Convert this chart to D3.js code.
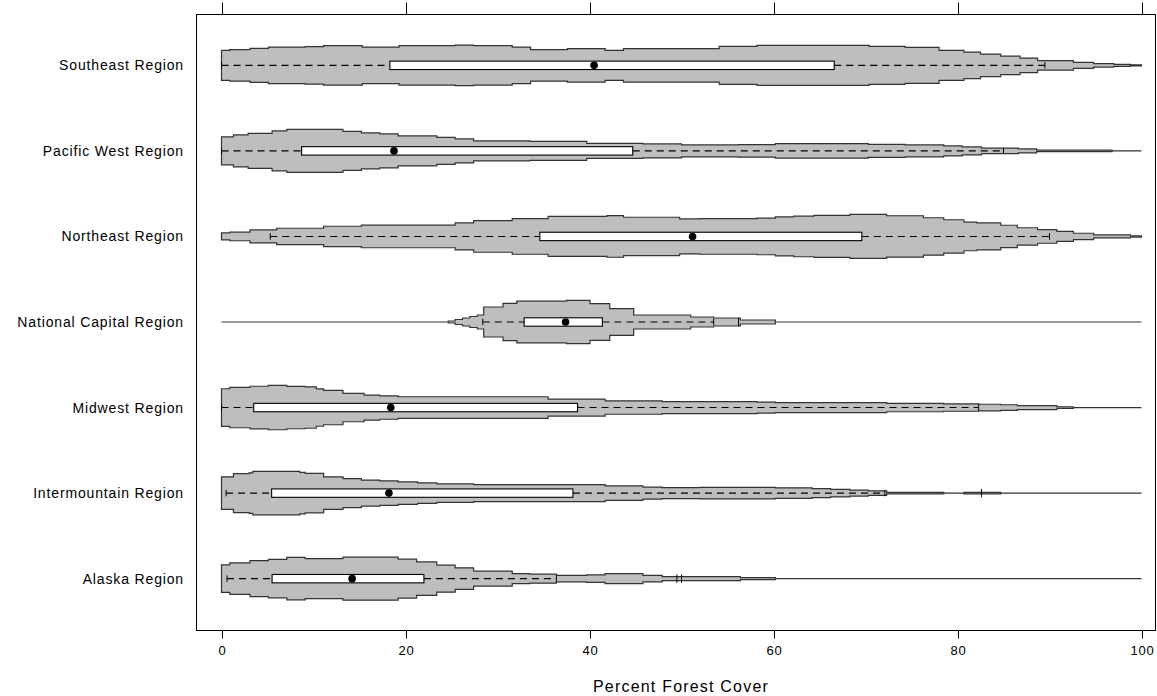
<!DOCTYPE html>
<html><head><meta charset="utf-8">
<script src="https://cdn.jsdelivr.net/npm/d3@7"></script>
<style>body{margin:0;background:#fff}svg{display:block}</style>
</head><body>
<script>
// ---- data ----
const regions = ["Southeast Region","Pacific West Region","Northeast Region","National Capital Region","Midwest Region","Intermountain Region","Alaska Region"];
const xTicks = [0,20,40,60,80,100];
const xLabel = "Percent Forest Cover";

// density profiles: [percent, density] (step starts)
const densSoutheast = [[0,15],[0.9,15.8],[3.1,17],[5.1,18.3],[9.1,18.8],[11.1,19.8],[15.3,18.3],[19.3,19.8],[25.4,20.3],[27.4,19.8],[31.6,18.3],[33.6,15.8],[37.6,16.7],[41.7,15],[43.7,16.7],[54.1,19],[58.2,20],[70.4,19],[74.3,18],[78,15],[80.7,13.3],[82.5,11.3],[84.7,9.3],[86.8,7.3],[88.7,4.7],[92.6,3],[94.8,1.7],[97,1],[98.8,0.6],[100,0.6]];
const densPacificWest = [[0,14],[1.3,16],[2.9,17.5],[5.5,20],[7.1,21.5],[13.2,19.5],[15.2,18],[17.2,17],[19.2,15],[23.4,13.5],[25.4,12],[27.4,10],[33.5,9.5],[39.7,7.5],[45.8,7],[50,6],[56.2,6.3],[60.2,7.3],[70.3,6.5],[74.3,6],[78.5,5],[80.5,4],[82.6,2.7],[86.6,2],[88.6,0.7],[96.8,0],[100,0]];
const densNortheast = [[0,3.5],[0.9,4.3],[3.1,6.5],[6,8.2],[11.1,10.2],[15.2,11.3],[25.4,13.5],[27.4,15.8],[31.6,17.8],[35.5,20],[41.9,20.8],[43.7,19.2],[49.8,17.5],[52,17.8],[58.2,18.3],[60.2,19.5],[62.2,20.3],[64.4,21],[68.3,22],[72.3,20.7],[76.3,18.7],[78.5,16.7],[80.7,14.3],[82.1,13.5],[84.7,11.2],[86.5,8.7],[88.7,6.8],[90.8,5],[92.6,3.2],[94.8,1.5],[98.8,0.7],[100,0.7]];
const densNationalCapital = [[0,0],[24.65,1],[25.4,2.5],[26.2,4],[27,5.5],[27.8,7],[28.5,15],[30.6,18.7],[32.1,20.8],[37.5,21.7],[40.05,18.3],[42.2,13.3],[44.8,7],[51,5],[53.5,4],[56.4,2],[60.2,0],[100,0]];
const densMidwest = [[0,18.8],[0.9,20.2],[3.1,21.3],[5.1,22.2],[7.1,21.2],[9.1,20.7],[10.3,18.7],[11.1,17.2],[13.2,14.2],[15.5,12.5],[17.2,11.7],[19.2,10.8],[35.5,8.5],[41.7,6.7],[47.9,6],[58.2,5.5],[60.2,5],[72.3,4.2],[78.5,3.7],[82.3,3.3],[84.7,2.8],[86.5,2],[90.8,0.8],[92.6,0],[100,0]];
const densIntermountain = [[0,16.3],[1.3,19.5],[3.0,20.3],[3.4,21.7],[8.5,20.8],[9.1,19.7],[11.1,16.3],[13.2,14.5],[15.2,13],[17.2,12.2],[19.2,11.2],[21.3,10.3],[23.4,9.2],[27.4,8.5],[41.7,7.3],[45.8,6],[47.9,5.5],[52,5.8],[60.2,5.3],[64.2,4.5],[66.2,3.8],[68.3,3],[70.3,2.3],[72.3,0.8],[78.5,0],[80.7,0.8],[84.7,0],[100,0]];
const densAlaska = [[0,13.7],[0.9,15.8],[3.1,18],[5.1,19.2],[7.1,21.2],[9.1,20],[13.2,21.5],[19.2,19.5],[21.2,16.7],[23.4,13.5],[25.4,10.8],[27.4,7.5],[31.6,5],[33.5,4.5],[36.4,3.2],[39.7,3.7],[41.7,5],[45.8,3.3],[47.9,2],[51,2],[56.4,1],[60.2,0],[100,0]];

// box stats: [lower whisker, q1, median, q3, upper whisker]
const statsSoutheast = [0,18.3,40.5,66.6,89.5];
const statsPacificWest = [0,8.7,18.75,44.7,85.0];
const statsNortheast = [5.3,34.6,51.2,69.6,90.0];
const statsNationalCapital = [28.4,32.9,37.4,41.4,53.5];
const statsMidwest = [0,3.5,18.4,38.7,82.3];
const statsIntermountain = [0.5,5.45,18.2,38.2,72.1];
const statsAlaska = [0.6,5.5,14.2,22.0,36.4];
const outliersNationalCapital = [56.2];
const outliersIntermountain = [82.6];
const outliersAlaska = [49.5,50.0];

const densities = [densSoutheast,densPacificWest,densNortheast,densNationalCapital,densMidwest,densIntermountain,densAlaska];
const stats = [statsSoutheast,statsPacificWest,statsNortheast,statsNationalCapital,statsMidwest,statsIntermountain,statsAlaska];
const outliers = [[],[],[],outliersNationalCapital,[],outliersIntermountain,outliersAlaska];

// ---- layout ----
const W = 1157, H = 696;
const frame = {left:196, right:1155, top:14, bottom:630};
const svg = d3.select("body").append("svg").attr("width",W).attr("height",H);
const x = d3.scaleLinear().domain([0,100]).range([221.5,1141.5]);
const y = d3.scalePoint().domain(regions).range([frame.top, frame.bottom]).padding(0.6);
const w = d3.scaleLinear().domain([0,22]).range([0,22]);
const font = "Arial, 'Liberation Sans', sans-serif";

// frame
svg.append("rect").attr("x",frame.left+0.5).attr("y",frame.top+0.5)
  .attr("width",frame.right-frame.left).attr("height",frame.bottom-frame.top)
  .attr("fill","none").attr("stroke","#000").attr("stroke-width",1);

// axes
const axB = d3.axisBottom(x).tickValues(xTicks).tickSize(8).tickPadding(7).tickFormat(d3.format("d"));
const gB = svg.append("g").attr("transform",`translate(0.5,${frame.bottom+0.5})`).call(axB);
gB.select(".domain").remove();
gB.selectAll("text").attr("font-family",font).attr("font-size",13).attr("letter-spacing","0.8px").attr("fill","#000");
const axT = d3.axisTop(x).tickValues(xTicks).tickSize(12).tickFormat("");
const gT = svg.append("g").attr("transform",`translate(0.5,${frame.top+0.5})`).call(axT);
gT.select(".domain").remove();
const axL = d3.axisLeft(y).tickSize(0).tickPadding(12);
const gL = svg.append("g").attr("transform",`translate(${frame.left},0)`).call(axL);
gL.select(".domain").remove();
gL.selectAll("text").attr("font-family",font).attr("font-size",14).attr("letter-spacing","0.85px").attr("fill","#000");

svg.append("text").attr("x",681).attr("y",692)
  .attr("text-anchor","middle").attr("font-family",font).attr("font-size",16).attr("letter-spacing","1.2px").text(xLabel);

// violins
regions.forEach((r,i)=>{
  const cy = y(r);
  const g = svg.append("g");
  const area = d3.area().curve(d3.curveStepAfter)
    .x(d=>x(d[0])).y0(d=>cy + w(d[1])).y1(d=>cy - w(d[1]));
  g.append("path").attr("d",area(densities[i]))
    .attr("fill","#bebebe").attr("stroke","#333").attr("stroke-width",1.2);
  const s = stats[i];
  const bh = 4.2;
  // whiskers (dashed)
  g.append("line").attr("x1",x(s[0])).attr("x2",x(s[1])).attr("y1",cy).attr("y2",cy)
    .attr("stroke","#000").attr("stroke-width",1.1).attr("stroke-dasharray","7,5");
  g.append("line").attr("x1",x(s[3])).attr("x2",x(s[4])).attr("y1",cy).attr("y2",cy)
    .attr("stroke","#000").attr("stroke-width",1.1).attr("stroke-dasharray","7,5");
  [s[0],s[4]].forEach(v=>{
    g.append("line").attr("x1",x(v)).attr("x2",x(v)).attr("y1",cy-bh+1).attr("y2",cy+bh-1).attr("stroke","#000");
  });
  outliers[i].forEach(v=>{
    g.append("line").attr("x1",x(v)).attr("x2",x(v)).attr("y1",cy-bh).attr("y2",cy+bh).attr("stroke","#000");
  });
  g.append("rect").attr("x",x(s[1])).attr("y",cy-bh).attr("width",x(s[3])-x(s[1])).attr("height",2*bh)
    .attr("fill","#fff").attr("stroke","#000").attr("stroke-width",1.1);
  g.append("circle").attr("cx",x(s[2])).attr("cy",cy).attr("r",3.8).attr("fill","#000");
});
</script>
</body></html>
